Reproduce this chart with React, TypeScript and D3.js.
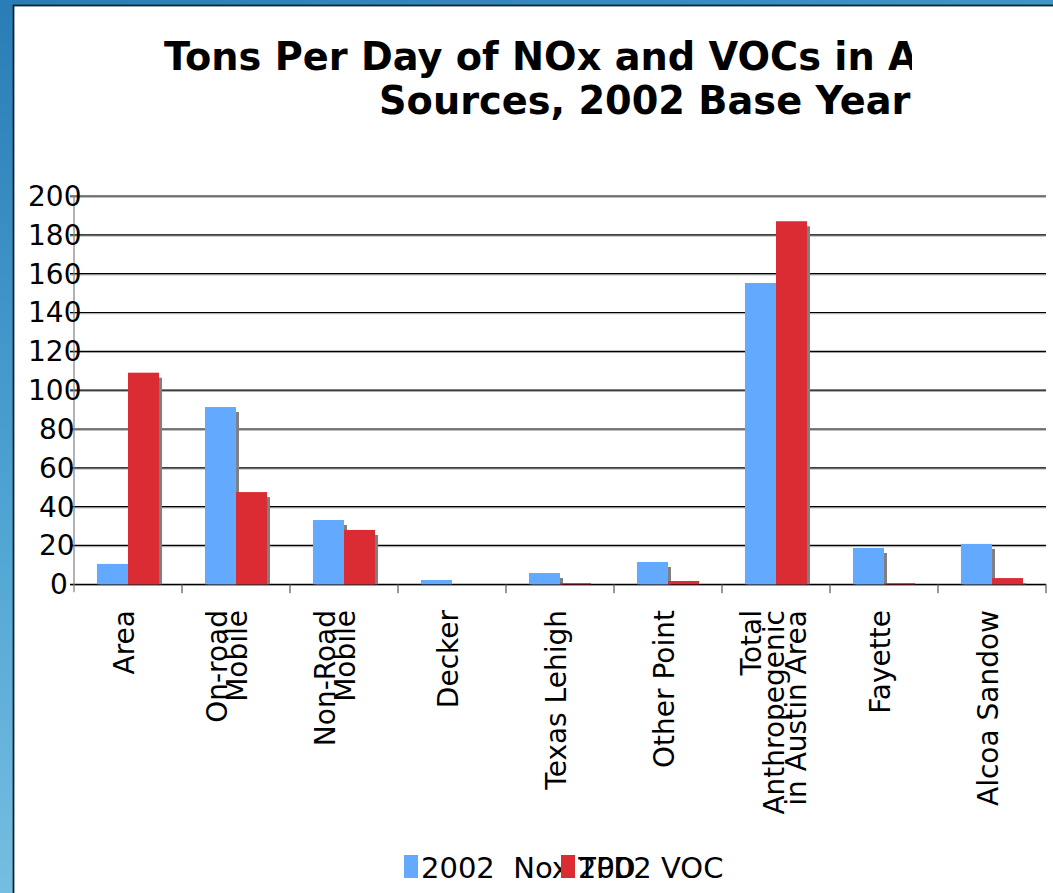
import React from "react";
import * as d3 from "d3";

// Emission source categories (multi-line labels split into lines)
const categoryLines: string[][] = [
  ["Area"],
  ["On-road", "Mobile"],
  ["Non-Road", "Mobile"],
  ["Decker"],
  ["Texas Lehigh"],
  ["Other Point"],
  ["Total", "Anthropegenic", "in Austin Area"],
  ["Fayette"],
  ["Alcoa Sandow"],
];
const categories = categoryLines.map((l) => l.join(" "));

// Tons per day, 2002 base year
const noxValues = [10.5, 91.3, 33.1, 2.2, 5.8, 11.5, 155.2, 18.7, 20.8];
const vocValues = [109, 47.5, 28.0, 0, 0.6, 1.7, 187, 0.6, 3.2];

const seriesNames = ["2002  Nox TPD", "2002 VOC TPD"];
const seriesKeys = ["nox", "voc"];
const seriesColors = ["#63a9fe", "#dc2c33"];

const yTicks = [0, 20, 40, 60, 80, 100, 120, 140, 160, 180, 200];

const titleLines = [
  "Tons Per Day of NOx and VOCs in Austin Area",
  "Sources, 2002 Base Year",
];

const W = 1053;
const H = 893;
const FONT = "'DejaVu Sans', Verdana, sans-serif";

// Baseline offsets (from the band centre) and line spacing for wrapped labels
const labelLayout: Record<number, { first: number; step: number }> = {
  1: { first: 6, step: 0 },
  2: { first: -9.5, step: 20 },
  3: { first: -15, step: 22.5 },
};

export default function App() {
  const x0 = d3.scaleBand<string>().domain(categories).range([74, 1046]).padding(0);
  const x1 = d3
    .scaleBand<string>()
    .domain(seriesKeys)
    .range([0, x0.bandwidth()])
    .paddingInner(0)
    .paddingOuter(0.74);
  const y = d3.scaleLinear().domain([0, 200]).range([584.3, 196]);

  const data = categories.map((c, i) => ({ c, nox: noxValues[i], voc: vocValues[i] }));
  const base = y(0);
  const bw = x1.bandwidth();

  const bars: { x: number; y: number; h: number; color: string }[] = [];
  data.forEach((d) => {
    seriesKeys.forEach((k, si) => {
      const v = (d as any)[k] as number;
      if (v <= 0) return;
      const bx = (x0(d.c) as number) + (x1(k) as number);
      const by = y(v);
      bars.push({ x: bx, y: by, h: base - by, color: seriesColors[si] });
    });
  });

  return (
    <svg
      width={W}
      height={H}
      style={{ position: "absolute", left: 0, top: 0, display: "block" }}
      fontFamily={FONT}
    >
      <defs>
        <linearGradient id="bg" x1="0" y1="0" x2="0.35" y2="1">
          <stop offset="0" stopColor="#2a7cb6" />
          <stop offset="0.5" stopColor="#4ea3d2" />
          <stop offset="1" stopColor="#80c5e5" />
        </linearGradient>
        <clipPath id="titleClip">
          <rect x={0} y={0} width={912} height={140} />
        </clipPath>
        <clipPath id="legendClip">
          <rect x={390} y={830} width={334} height={63} />
        </clipPath>
      </defs>

      <rect x={0} y={0} width={W} height={H} fill="url(#bg)" />
      <rect x={13.5} y={5.5} width={W + 20} height={H + 20} fill="#ffffff" stroke="#0b2535" strokeWidth={1.8} />

      {/* Title */}
      <g clipPath="url(#titleClip)" fontFamily={FONT} fontWeight="bold" fontSize={38.3} fill="#000">
        <text x={164} y={70}>{titleLines[0]}</text>
        <text x={379} y={114}>{titleLines[1]}</text>
      </g>

      {/* Gridlines */}
      {yTicks.map((t) => (
        <g key={t}>
          <line x1={70} x2={1046} y1={y(t) + 1.2} y2={y(t) + 1.2} stroke="#a0a0a0" strokeWidth={1} />
          <line x1={70} x2={1046} y1={y(t)} y2={y(t)} stroke="#000" strokeWidth={1.2} />
        </g>
      ))}

      {/* Y axis */}
      <line x1={74} x2={74} y1={y(200)} y2={base + 8} stroke="#808080" strokeWidth={1.2} />

      {/* Category ticks */}
      {categories.map((c) => (
        <line
          key={c}
          x1={(x0(c) as number) + x0.bandwidth()}
          x2={(x0(c) as number) + x0.bandwidth()}
          y1={base}
          y2={base + 9}
          stroke="#555"
          strokeWidth={1.2}
        />
      ))}

      {/* Bar shadows */}
      {bars.map((b, i) =>
        b.h > 5 ? (
          <rect key={"s" + i} x={b.x + 3} y={b.y + 5} width={bw} height={b.h - 5} fill="#808080" />
        ) : null
      )}
      {/* Bars */}
      {bars.map((b, i) => (
        <rect key={"b" + i} x={b.x} y={b.y} width={bw} height={Math.max(b.h, 1)} fill={b.color} />
      ))}

      {/* Y tick labels */}
      {yTicks.map((t) => {
        const s = String(t);
        return (
          <text key={t} x={61 - 11 * s.length} y={y(t) + 10} fontSize={28} fill="#000">
            {s}
          </text>
        );
      })}

      {/* Category labels */}
      {categoryLines.map((lines, i) => {
        const cx = (x0(categories[i]) as number) + x0.bandwidth() / 2;
        const lay = labelLayout[lines.length];
        return lines.map((ln, j) => {
          const bx = cx + lay.first + j * lay.step;
          return (
            <text
              key={i + "-" + j}
              transform={`translate(${bx},610) rotate(-90)`}
              textAnchor="end"
              fontSize={28}
              fill="#000"
            >
              {ln}
            </text>
          );
        });
      })}

      {/* Legend */}
      <g clipPath="url(#legendClip)" fontSize={29} fill="#000">
        <rect x={404} y={855} width={14} height={23} fill={seriesColors[0]} />
        <text x={421} y={878} style={{ whiteSpace: "pre" }}>
          {seriesNames[0]}
        </text>
        <rect x={561} y={855} width={14} height={23} fill={seriesColors[1]} />
        <text x={578} y={878} style={{ whiteSpace: "pre" }}>
          {seriesNames[1]}
        </text>
      </g>
    </svg>
  );
}
